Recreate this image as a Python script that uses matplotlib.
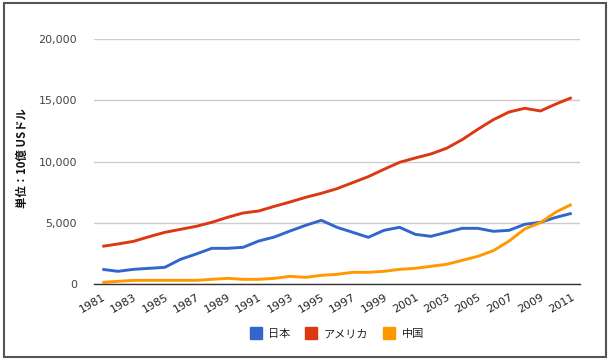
import matplotlib
matplotlib.use("Agg")
import matplotlib.pyplot as plt
from matplotlib.lines import Line2D
from matplotlib.patches import Rectangle

plt.rcParams['font.family'] = ['DejaVu Sans', 'Noto Sans CJK JP']

years = list(range(1981, 2012))
japan = [1199, 1036, 1199, 1281, 1363, 2017, 2453, 2916, 2916, 2998,
         3515, 3842, 4333, 4796, 5205, 4633, 4224, 3815, 4387, 4633,
         4060, 3897, 4224, 4551, 4551, 4306, 4387, 4878, 5041, 5450, 5777]
usa = [3079, 3270, 3488, 3870, 4224, 4469, 4714, 5041, 5450, 5804,
       5968, 6349, 6703, 7085, 7412, 7793, 8284, 8775, 9374, 9946,
       10300, 10628, 11091, 11800, 12644, 13434, 14061, 14361, 14143, 14715, 15233]
china = [136, 218, 300, 300, 300, 300, 300, 382, 463, 382,
         382, 463, 627, 545, 709, 790, 954, 954, 1036, 1199,
         1281, 1444, 1608, 1935, 2262, 2725, 3515, 4496, 5014, 5886, 6513]

series_names = ['日本', 'アメリカ', '中国']
series_colors = ['#3366CC', '#DC3912', '#FF9900']
y_ticks = [0, 5000, 10000, 15000, 20000]
x_ticks = list(range(1981, 2012, 2))
y_label = '単位：10億 USドル'

W, H = 609, 360
fig = plt.figure(figsize=(W / 100, H / 100), dpi=100)
ax = fig.add_axes([93.7 / W, 1 - 284 / H, (580 - 93.7) / W, (284 - 39.3) / H])

for vals, name, col in zip([japan, usa, china], series_names, series_colors):
    ax.plot(years, vals, color=col, lw=2.1, label=name, solid_capstyle='butt',
            solid_joinstyle='round', zorder=3)

ax.set_xlim(1980.45, 2011.53)
ax.set_ylim(0, 20000)
ax.set_yticks(y_ticks)
ax.set_yticklabels([f'{v:,}' for v in y_ticks], fontsize=8, color='#444444')
ax.set_xticks(x_ticks)
ax.set_xticklabels([str(x) for x in x_ticks], fontsize=8, color='#222222',
                   rotation=30, ha='right', va='top', rotation_mode='anchor')
ax.tick_params(axis='y', length=0, pad=12)
ax.tick_params(axis='x', length=0, pad=6)
ax.grid(axis='y', color='#CCCCCC', lw=1)
ax.set_axisbelow(True)
for s in ['top', 'right', 'left']:
    ax.spines[s].set_visible(False)
ax.spines['bottom'].set_color('#333333')
ax.spines['bottom'].set_linewidth(1)
ax.spines['bottom'].set_zorder(4)

fig.text(22 / W, 1 - 158 / H, y_label, rotation=90, ha='center', va='center',
         fontsize=8.2, fontweight='bold', style='italic',
         family=['Noto Sans CJK JP', 'DejaVu Sans'], color='#111111')

handles = [Line2D([], [], ls='none', marker='s', markersize=8.6, markerfacecolor=c,
                  markeredgecolor=c) for c in series_colors]
leg = ax.legend(handles, series_names, loc='center', bbox_to_anchor=(0.5, -0.2046),
                ncol=3, frameon=False, handlelength=1.1, handletextpad=0.6,
                columnspacing=1.3, prop={'family': ['Noto Sans CJK JP'], 'size': 8})
for t in leg.get_texts():
    t.set_color('#222222')

fig.add_artist(Rectangle((3.5 / W, 3.5 / H), (606 - 3.5) / W, (357 - 3.5) / H,
                         transform=fig.transFigure, fill=False, edgecolor='#555555', lw=1.5))

fig.savefig('out.png', dpi=100, facecolor='white')
